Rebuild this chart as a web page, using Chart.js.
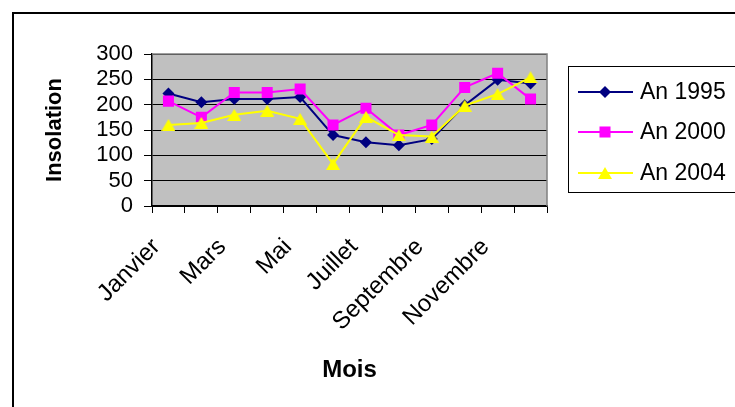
<!DOCTYPE html>
<html>
<head>
<meta charset="utf-8">
<script src="https://cdn.jsdelivr.net/npm/chart.js@4/dist/chart.umd.min.js"></script>
<style>
  html, body { margin: 0; padding: 0; background: #ffffff; overflow: hidden; }
  #wrap { position: relative; width: 735px; height: 407px; }
  canvas { display: block; }
</style>
</head>
<body>
<div id="wrap"><canvas id="c" width="735" height="407"></canvas></div>
<script>
// Monthly sunshine (insolation) for three years
const months = ['Janvier', 'Février', 'Mars', 'Avril', 'Mai', 'Juin', 'Juillet', 'Août', 'Septembre', 'Octobre', 'Novembre', 'Décembre'];
const an1995 = [222, 205, 211, 211, 215, 140, 126, 120, 132, 199, 249, 242];
const an2000 = [207, 175, 224, 224, 231, 160, 193, 140, 160, 234, 262, 211];
const an2004 = [160, 164, 180, 188, 172, 83, 176, 140, 137, 198, 221, 254];
const seriesNames = ['An 1995', 'An 2000', 'An 2004'];
const yTicks = [0, 50, 100, 150, 200, 250, 300];

const FONT = "'Liberation Sans', Arial, sans-serif";
const NAVY = '#000080', MAGENTA = '#FF00FF', YELLOW = '#FFFF00';

// Triangle marker whose bounding box is centred on the data point
function triangleMarker(w, h, color) {
  const cv = document.createElement('canvas');
  cv.width = w; cv.height = h;
  const g = cv.getContext('2d');
  g.fillStyle = color;
  g.beginPath();
  g.moveTo(w / 2, 0);
  g.lineTo(w, h);
  g.lineTo(0, h);
  g.closePath();
  g.fill();
  return cv;
}
const triImg = triangleMarker(14, 12, YELLOW);

const frameAndBackground = {
  id: 'frameAndBackground',
  beforeDraw(chart) {
    const { ctx, chartArea: a } = chart;
    ctx.save();
    // plot area fill
    ctx.fillStyle = '#C0C0C0';
    ctx.fillRect(a.left, a.top, a.right - a.left, a.bottom - a.top);
    // outer chart frame
    ctx.strokeStyle = '#000000';
    ctx.lineWidth = 2;
    ctx.beginPath();
    ctx.moveTo(13, 407);
    ctx.lineTo(13, 13);
    ctx.lineTo(740, 13);
    ctx.stroke();
    ctx.restore();
  },
  beforeDatasetsDraw(chart) {
    const { ctx, chartArea: a } = chart;
    ctx.save();
    ctx.strokeStyle = '#808080';
    ctx.lineWidth = 1.5;
    ctx.beginPath();
    ctx.moveTo(a.left, a.top);
    ctx.lineTo(a.right, a.top);
    ctx.lineTo(a.right, a.bottom);
    ctx.stroke();
    ctx.restore();
  }
};

const boxLegend = {
  id: 'boxLegend',
  afterDraw(chart) {
    const { ctx } = chart;
    ctx.save();
    ctx.fillStyle = '#ffffff';
    ctx.fillRect(568.5, 66.5, 200, 126);
    ctx.strokeStyle = '#000000';
    ctx.lineWidth = 1;
    ctx.strokeRect(568.5, 66.5, 200, 126);
    const rows = [92, 132, 173];
    chart.data.datasets.forEach((ds, i) => {
      const y = rows[i];
      ctx.strokeStyle = ds.borderColor;
      ctx.lineWidth = 2;
      ctx.beginPath();
      ctx.moveTo(578, y);
      ctx.lineTo(633, y);
      ctx.stroke();
      const cx = 605;
      ctx.fillStyle = ds.pointBackgroundColor;
      if (ds.pointStyle === 'rectRot') {
        const r = ds.pointRadius;
        ctx.beginPath();
        ctx.moveTo(cx, y - r); ctx.lineTo(cx + r, y); ctx.lineTo(cx, y + r); ctx.lineTo(cx - r, y);
        ctx.closePath(); ctx.fill();
      } else if (ds.pointStyle === 'rect') {
        const s = ds.pointRadius * Math.SQRT1_2;
        ctx.fillRect(cx - s, y - s, 2 * s, 2 * s);
      } else {
        ctx.drawImage(ds.pointStyle, cx - ds.pointStyle.width / 2, y - ds.pointStyle.height / 2);
      }
      ctx.fillStyle = '#000000';
      ctx.font = '23px ' + FONT;
      ctx.textAlign = 'left';
      ctx.textBaseline = 'middle';
      ctx.fillText(ds.label, 640, y + 1);
    });
    ctx.restore();
  }
};

function series(label, data, color, style, radius, order) {
  return {
    label, data, order,
    borderColor: color,
    backgroundColor: color,
    borderWidth: 2,
    tension: 0,
    pointStyle: style,
    pointRadius: radius,
    pointBackgroundColor: color,
    pointBorderColor: color,
    pointBorderWidth: 0
  };
}

new Chart(document.getElementById('c'), {
  type: 'line',
  data: {
    labels: months,
    datasets: [
      series(seriesNames[0], an1995, NAVY, 'rectRot', 6, 3),
      series(seriesNames[1], an2000, MAGENTA, 'rect', 7.8, 2),
      series(seriesNames[2], an2004, YELLOW, triImg, 7, 1)
    ]
  },
  options: {
    responsive: false,
    animation: false,
    events: [],
    layout: { padding: { top: 54, right: 188, bottom: 0, left: 0 } },
    plugins: { legend: { display: false }, tooltip: { enabled: false } },
    scales: {
      x: {
        offset: true,
        grid: { offset: true, drawOnChartArea: false, drawTicks: true, tickLength: 7, color: '#000000', lineWidth: 1 },
        border: { color: '#000000', width: 1.5 },
        ticks: {
          autoSkip: false,
          minRotation: 45,
          maxRotation: 45,
          padding: 20,
          labelOffset: -12,
          color: '#000000',
          font: { family: FONT, size: 24 },
          callback: function (v, i) { return i % 2 === 0 ? months[i] : ''; }
        },
        title: { display: true, text: 'Mois', color: '#000000', font: { family: FONT, size: 24, weight: 'bold' }, padding: { top: 0, bottom: 22 } },
        afterFit(s) { s.height = 407 - 206; }
      },
      y: {
        min: 0, max: 300,
        afterBuildTicks(s) { s.ticks = yTicks.map(v => ({ value: v })); },
        grid: { color: '#000000', lineWidth: 1, drawTicks: true, tickLength: 8 },
        border: { color: '#000000', width: 1.5 },
        ticks: {
          autoSkip: false,
          padding: 11,
          color: '#000000',
          font: { family: FONT, size: 22, lineHeight: 1 }
        },
        title: { display: true, text: 'Insolation', color: '#000000', font: { family: FONT, size: 22, weight: 'bold' }, padding: { top: 42, bottom: 0 } },
        afterFit(s) { s.width = 152; }
      }
    }
  },
  plugins: [frameAndBackground, boxLegend]
});
</script>
</body>
</html>
